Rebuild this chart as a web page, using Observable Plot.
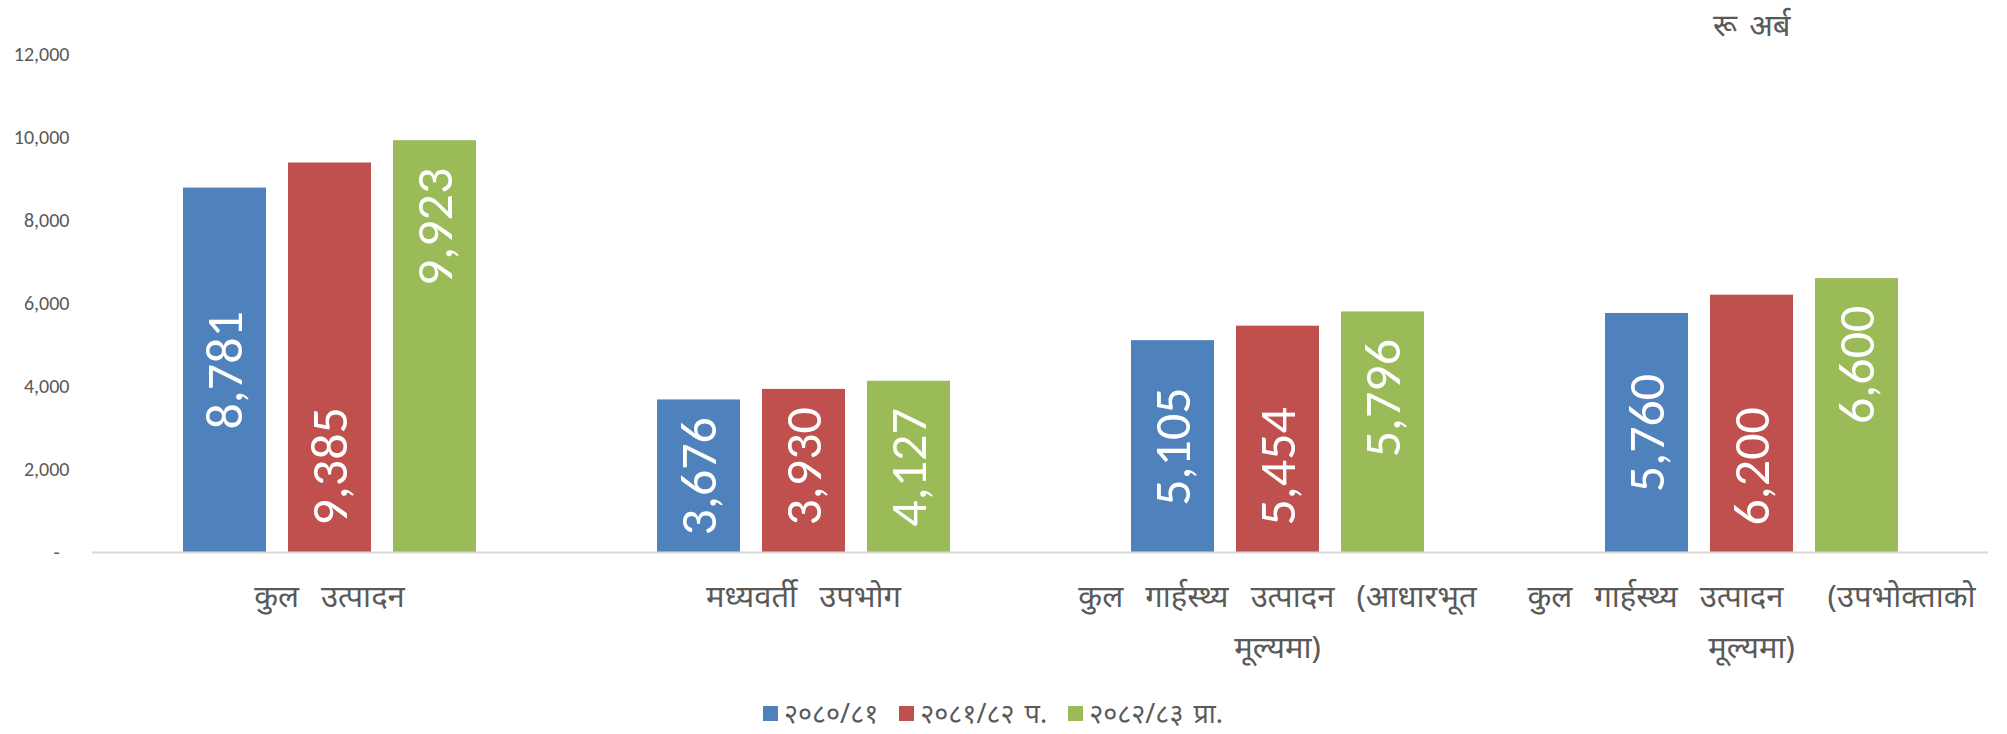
<!DOCTYPE html>
<html><head><meta charset="utf-8">
<script src="https://cdn.jsdelivr.net/npm/d3@7"></script>
<script src="https://cdn.jsdelivr.net/npm/@observablehq/plot@0.6"></script>
<style>
body{margin:0;background:#fff;}
#wrap{position:relative;width:2007px;height:734px;overflow:hidden;background:#fff;}
#chart{position:absolute;left:0;top:0;}
#unit{position:absolute;left:1713px;top:4px;font-size:31px;line-height:1.3;font-family:"Noto Sans","Noto Sans Devanagari",sans-serif;color:#595959;word-spacing:4px;}
#legend{position:absolute;top:698px;left:0;width:2007px;display:flex;justify-content:center;}
.lg-swatches-wrap{min-height:30px !important;}
.lg-swatch{margin-right:21px !important;word-spacing:3px;line-height:1.1;}
.lg-swatch > svg{margin-right:6px !important;}
g[aria-label="fx-axis tick label"] text{word-spacing:14px;white-space:pre;}
</style></head><body>
<div id="wrap"><div id="chart"></div><div id="unit"></div><div id="legend"></div></div>
<script>
const categories = ["कुल उत्पादन", "मध्यवर्ती उपभोग", "कुल गार्हस्थ्य उत्पादन (आधारभूत मूल्यमा)", "कुल गार्हस्थ्य उत्पादन  (उपभोक्ताको मूल्यमा)"];
const series = ["२०८०/८१", "२०८१/८२ प.", "२०८२/८३ प्रा."];
const values2080 = [8781, 3676, 5105, 5760];
const values2081 = [9385, 3930, 5454, 6200];
const values2082 = [9923, 4127, 5796, 6600];
const yTicks = [0, 2000, 4000, 6000, 8000, 10000, 12000];
const unitLabel = "रू अर्ब";
const colors = ["#4F81BD", "#C0504D", "#9BBB59"];

const seriesValues = [values2080, values2081, values2082];
const data = [];
series.forEach((s, i) => categories.forEach((c, j) => data.push({category: c, series: s, value: seriesValues[i][j]})));

const fmt = d3.format(",");
const numFont = "Carlito, Lato, sans-serif";
const devFont = "'Noto Sans', 'Noto Sans Devanagari', sans-serif";

const labelCommon = {fx: "category", x: "series", text: d => fmt(d.value), rotate: -90, fill: "white", fontSize: 52, fontFamily: numFont, lineAnchor: "middle"};

const chart = Plot.plot({
  width: 2007,
  height: 680,
  marginTop: 54,
  marginBottom: 128,
  marginLeft: 90,
  marginRight: 18,
  style: {background: "white", fontFamily: numFont},
  fx: {domain: categories, padding: 0, label: null},
  x: {domain: series, paddingInner: 0.21, paddingOuter: 0.862, axis: null},
  y: {domain: [0, 12000], label: null},
  color: {domain: series, range: colors},
  marks: [
    Plot.barY(data, {fx: "category", x: "series", y: "value", fill: "series"}),
    Plot.ruleY([0], {stroke: "#d9d9d9", strokeWidth: 2}),
    Plot.text(data.filter(d => d.series === series[0]), {...labelCommon, y: d => d.value / 2, textAnchor: "middle"}),
    Plot.text(data.filter(d => d.series === series[1]), {...labelCommon, y: 0, textAnchor: "start", dy: -27}),
    Plot.text(data.filter(d => d.series === series[2]), {...labelCommon, y: "value", textAnchor: "end", dy: 27}),
    Plot.axisY({ticks: yTicks, tickSize: 0, tickPadding: 23, fontSize: 20, fill: "#595959", label: null,
      tickFormat: d => d === 0 ? "-\u2002" : fmt(d)}),
    Plot.axisFx({anchor: "bottom", tickSize: 0, tickPadding: 18, fontSize: 31, lineHeight: 1.65, fill: "#595959", label: null,
      fontFamily: devFont, tickFormat: d => d.replace(" मूल्यमा)", "\nमूल्यमा)")})
  ]
});
document.getElementById("chart").appendChild(chart);
document.getElementById("unit").textContent = unitLabel;

const legend = Plot.legend({
  color: {domain: series, range: colors},
  legend: "swatches",
  swatchSize: 15,
  className: "lg",
  style: {fontSize: "27px", color: "#595959", fontFamily: devFont}
});
document.getElementById("legend").appendChild(legend);
</script>
</body></html>
